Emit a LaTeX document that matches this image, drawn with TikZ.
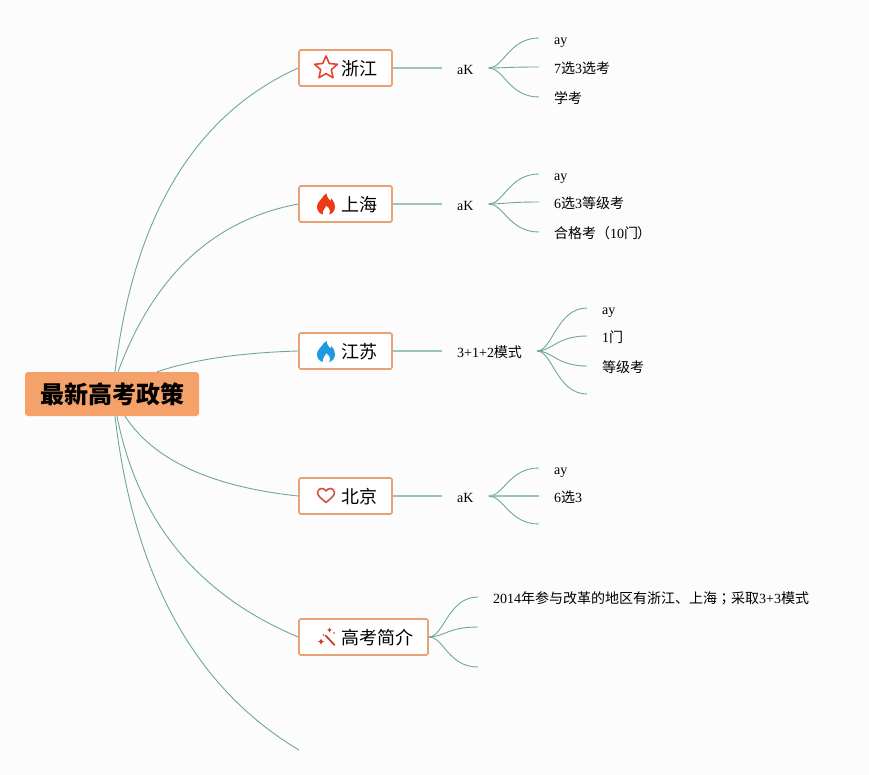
\documentclass[tikz,border=0pt]{standalone}
\usepackage{fontspec}
\setmainfont{Liberation Serif}
\newfontfamily\cjk{Noto Sans CJK SC}
\newfontfamily\cjkpunct{Noto Sans CJK TC}
\newcommand\zh[1]{{\cjk #1}}
\definecolor{pagebg}{HTML}{FCFCFC}
\definecolor{boxline}{HTML}{EBA273}
\definecolor{rootfill}{HTML}{F5A26A}
\definecolor{edgeteal}{HTML}{6FA897}
\definecolor{edgelight}{HTML}{9CC4B8}
\definecolor{iconred}{HTML}{E8422E}
\definecolor{iconflame}{HTML}{EB3A14}
\definecolor{iconblue}{HTML}{1E9BE0}
\definecolor{iconheart}{HTML}{CF5244}
\tikzset{
  rootbox/.style={fill=rootfill,rounded corners=3pt,minimum width=174pt,minimum height=44pt,inner sep=0pt,font=\cjk\bfseries\fontsize{24}{28}\selectfont},
  topicbox/.style={draw=boxline,line width=1.7pt,fill=white,rounded corners=1.5pt,minimum height=36pt,inner sep=0pt,text height=17pt,text depth=2.5pt,font=\cjk\fontsize{18}{22}\selectfont},
  midlabel/.style={anchor=west,inner xsep=15pt,inner ysep=0pt,text height=16pt,text depth=3pt,font=\fontsize{14}{16}\selectfont},
  leaflabel/.style={anchor=west,inner xsep=15pt,inner ysep=0pt,text height=16pt,text depth=3pt,font=\fontsize{14}{16}\selectfont},
  rootedge/.style={draw=edgeteal,line width=0.9pt},
  leafedge/.style={draw=edgeteal,line width=0.9pt},
  stemedge/.style={draw=edgelight,line width=1.2pt},
  iconline/.style={line join=round,line cap=round}
}
\begin{document}
\begin{tikzpicture}[x=1pt,y=-1pt]
\path[fill=pagebg,use as bounding box] (0,0) rectangle (869,775);

% root and topics
\node[rootbox] (root) at (112,394) {\raisebox{-2pt}{最新高考政策}};
\node[topicbox,minimum width=93pt] (zj) at (345.5,68) {\hspace*{27pt}浙江};
\node[topicbox,minimum width=93pt] (sh) at (345.5,204) {\hspace*{27pt}上海};
\node[topicbox,minimum width=93pt] (js) at (345.5,351) {\hspace*{27pt}江苏};
\node[topicbox,minimum width=93pt] (bj) at (345.5,496) {\hspace*{27pt}北京};
\node[topicbox,minimum width=129pt] (gk) at (363.5,637) {\hspace*{27pt}高考简介};
\coordinate (tail) at (299,750);

% root connectors
\draw[rootedge] ([xshift=3pt]root.north) .. controls +(18.7,-155) and +(-104,47) .. (zj.west);
\draw[rootedge] ([xshift=6pt]root.north) .. controls +(35.7,-96) and +(-85,16) .. (sh.west);
\draw[rootedge] ([xshift=45pt]root.north) .. controls +(36.7,-12.3) and +(-58,1.7) .. (js.west);
\draw[rootedge] ([xshift=13pt]root.south) .. controls +(28.7,44) and +(-87,-9.3) .. (bj.west);
\draw[rootedge] ([xshift=5pt]root.south) .. controls +(20.7,105) and +(-100.7,-42.3) .. (gk.west);
\draw[rootedge] ([xshift=3pt]root.south) .. controls +(18.7,160.7) and +(-104,-62) .. (tail);

% middle labels
\node[midlabel] (zjm) at (442,68) {aK};
\node[midlabel] (shm) at (442,204) {aK};
\node[midlabel] (jsm) at (442,351) {3+1+2\zh{模式}};
\node[midlabel] (bjm) at (442,496) {aK};
\foreach \a/\b in {zj/zjm,sh/shm,js/jsm,bj/bjm}{\draw[stemedge] (\a.east) -- (\b.west);}

% leaves
\node[leaflabel] (z1) at (539,38) {ay};
\node[leaflabel] (z2) at (539,67) {7\zh{选}3\zh{选考}};
\node[leaflabel] (z3) at (539,97) {\zh{学考}};
\node[leaflabel] (s1) at (539,174) {ay};
\node[leaflabel] (s2) at (539,202) {6\zh{选}3\zh{等级考}};
\node[leaflabel] (s3) at (539,232) {\zh{合格考（}10\zh{门}\hspace{-1pt}\zh{）}};
\node[leaflabel] (j1) at (587,308) {ay};
\node[leaflabel] (j2) at (587,336) {1\zh{门}};
\node[leaflabel] (j3) at (587,366) {\zh{等级考}};
\coordinate (j4) at (587,394);
\node[leaflabel] (b1) at (539,468) {ay};
\node[leaflabel] (b2) at (539,496) {6\zh{选}3};
\coordinate (b3) at (539,524);
\node[leaflabel] (g1) at (478,597) {2014\zh{年参与改革的地区有浙江、上海}{\cjkpunct ；}\zh{采取}3+3\zh{模式}};
\coordinate (g2) at (478,627);
\coordinate (g3) at (478,667);

\foreach \a/\b in {zjm/z1,zjm/z2,zjm/z3,shm/s1,shm/s2,shm/s3,bjm/b1,jsm/j1,jsm/j2,jsm/j3}{
  \draw[leafedge] (\a.east) .. controls +(15,0) and +(-30,0) .. (\b.west);}
\draw[stemedge] (bjm.east) -- (b2.west);
\draw[leafedge] (jsm.east) .. controls +(15,0) and +(-30,0) .. (j4);
\draw[leafedge] (bjm.east) .. controls +(15,0) and +(-30,0) .. (b3);
\draw[leafedge] (gk.east) .. controls +(15,0) and +(-30,0) .. (g1.west);
\foreach \b in {g2,g3}{\draw[leafedge] (gk.east) .. controls +(15,0) and +(-30,0) .. (\b);}

% icons
\draw[iconline,draw=iconred,line width=1.6pt,fill=white,shift={(326,68)}]
  (0,-12) -- (3.3,-4.5) -- (11.4,-3.7) -- (5.3,1.7) -- (7.05,9.7) -- (0,5.6) -- (-7.05,9.7) -- (-5.3,1.7) -- (-11.4,-3.7) -- (-3.3,-4.5) -- cycle;

\foreach \cy/\col in {204/iconflame,351.5/iconblue}{
  \begin{scope}[shift={(326,\cy)}]
  \fill[\col] (0.5,-10.5) .. controls (1,-6) and (3,-5) .. (4.5,-3) .. controls (5,-3.5) and (5.3,-4.5) .. (5.5,-5.5)
     .. controls (8,-3) and (9,0) .. (9,3) .. controls (9,7) and (6,10) .. (3,10.5)
     .. controls (5,8) and (4,4) .. (0,1.5) .. controls (0.2,4) and (-4.5,6) .. (-3,10.5)
     .. controls (-6,10) and (-9,7) .. (-9,3) .. controls (-9,-1) and (-6,-3) .. (-4,-6)
     .. controls (-3,-8) and (-1,-9.5) .. (0.5,-10.5) -- cycle;
  \end{scope}
}

\draw[iconline,draw=iconheart,line width=1.6pt,shift={(326,495.5)}]
  (0,7) .. controls (-4,3.5) and (-8.5,0.5) .. (-8.5,-3) .. controls (-8.5,-6) and (-6,-7) .. (-4.5,-7)
  .. controls (-2.5,-7) and (-1,-6) .. (0,-4.5) .. controls (1,-6) and (2.5,-7) .. (4.5,-7)
  .. controls (6,-7) and (8.5,-6) .. (8.5,-3) .. controls (8.5,0.5) and (4,3.5) .. (0,7) -- cycle;

\draw[iconline,draw=iconred!85!black,line width=1.7pt] (325.5,635.5) -- (334.5,645);
\fill[iconred!90!black] (329.5,627.5) -- (330.3,629.2) -- (332,630) -- (330.3,630.8) -- (329.5,632.5) -- (328.7,630.8) -- (327,630) -- (328.7,629.2) -- cycle;
\fill[iconred!90!black] (321,638.5) -- (322,640.6) -- (324,641.6) -- (322,642.6) -- (321,644.7) -- (320,642.6) -- (318,641.6) -- (320,640.6) -- cycle;
\fill[iconred!90!black] (334,633) circle (0.8);
\fill[iconred!90!black] (323.5,635) circle (0.8);
\end{tikzpicture}
\end{document}
